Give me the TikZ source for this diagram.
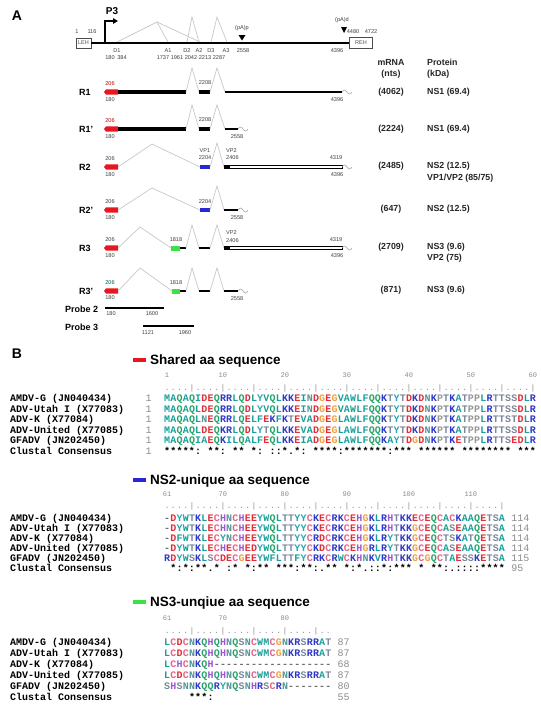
\documentclass[tikz,border=0pt]{standalone}
\usepackage{fontspec}
\setmainfont{Liberation Sans}
\newfontfamily\monof{Liberation Mono}
\usetikzlibrary{arrows.meta}
\definecolor{tred}{RGB}{232,22,30}
\definecolor{tblue}{RGB}{40,40,210}
\definecolor{tgreen}{RGB}{60,225,70}
\definecolor{splice}{RGB}{200,200,200}
\definecolor{chyd}{RGB}{25,160,155}
\definecolor{cacid}{RGB}{225,45,55}
\definecolor{cbas}{RGB}{45,55,200}
\definecolor{chis}{RGB}{160,85,210}
\definecolor{cgly}{RGB}{240,160,60}
\definecolor{ccys}{RGB}{230,100,135}
\definecolor{cgln}{RGB}{35,165,105}
\definecolor{casn}{RGB}{85,150,150}
\definecolor{cpol}{RGB}{125,135,155}
\definecolor{cpro}{RGB}{150,150,150}
\definecolor{ctyr}{RGB}{40,165,175}
\definecolor{cgap}{RGB}{110,110,110}
\newcommand\setaa[2]{\expandafter\def\csname aac#1\endcsname{\color{#2}}}
\setaa{A}{chyd}\setaa{I}{chyd}\setaa{L}{chyd}\setaa{M}{chyd}\setaa{V}{chyd}\setaa{F}{chyd}\setaa{W}{chyd}
\setaa{D}{cacid}\setaa{E}{cacid}\setaa{K}{cbas}\setaa{R}{cbas}\setaa{H}{chis}\setaa{G}{cgly}
\setaa{C}{ccys}\setaa{Q}{cgln}\setaa{N}{casn}\setaa{S}{cpol}\setaa{T}{cpol}\setaa{P}{cpro}
\setaa{Y}{ctyr}\setaa{-}{cgap}
\newcommand\aaseq[1]{\aaseqi#1\relax}
\def\aaseqi#1{\ifx\relax#1\else\hbox to 6.2pt{\hss\csname aac#1\endcsname#1\hss}\expandafter\aaseqi\fi}
\newcommand\cons[1]{\consi#1\relax}
\def\consi#1{\ifx\relax#1\else\hbox to 6.2pt{\hss\if0#1\else#1\fi\hss}\expandafter\consi\fi}
\newcommand\redbar[1]{\fill[tred] (104,#1) -- ++(2,-2.6) -- ++(12,0) -- ++(0,5.2) -- ++(-12,0) -- cycle;}
\newcommand\wave[2]{\draw[draw=black!35,line width=0.6pt] (#1,#2) sin ++(2.5,-2) cos ++(2.5,2) sin ++(2.5,2) cos ++(2.5,-2);}
\begin{document}
\begin{tikzpicture}[x=1pt,y=-1pt,
  spl/.style={draw=splice,line width=0.7pt},
  thinl/.style={line width=1.1pt},
  sm/.style={inner sep=0pt,font=\fontsize{5.6}{6}\selectfont,text=black!75},
  rl/.style={inner sep=0pt,anchor=west,font=\bfseries\fontsize{9}{10}\selectfont},
  cv/.style={inner sep=0pt,font=\bfseries\fontsize{8.8}{10}\selectfont,text=black!85},
  pv/.style={cv,anchor=west},
  seqt/.style={inner sep=0pt,anchor=west,text height=7pt,text depth=0pt,font=\monof\bfseries\fontsize{10}{10}\selectfont},
  rult/.style={inner sep=0pt,anchor=west,text height=7pt,text depth=0pt,text=black!45,font=\monof\fontsize{8}{8}\selectfont},
  numt/.style={inner sep=0pt,text=black!45,font=\monof\fontsize{7}{7}\selectfont},
  endn/.style={inner sep=0pt,anchor=west,text height=7pt,text depth=0pt,text=black!45,font=\monof\fontsize{10}{10}\selectfont},
  hdr/.style={inner sep=0pt,anchor=base west,font=\bfseries\fontsize{13.5}{14}\selectfont},
  panel/.style={inner sep=0pt,font=\bfseries\fontsize{14}{14}\selectfont},
  boxl/.style={draw=black!70,line width=0.5pt,inner sep=0pt,font=\fontsize{5.5}{6}\selectfont,text=black!70}]
\useasboundingbox (0,0) rectangle (541,710);
\fill[white] (0,0) rectangle (541,710);
% ================= Panel A =================
\node[panel] (pa) at (17,16) {A};
% splice lines on genome
\draw[spl] (117,42) -- (157,22) -- (168,42);
\draw[spl] (157,22) -- (200,42);
\draw[spl] (187,42) -- (192,17) -- (199,42);
\draw[spl] (211,42) -- (217,17) -- (227,42);
\node[boxl,minimum width=15pt,minimum height=10pt] (leh) at (83.5,43) {LEH};
\node[boxl,minimum width=23pt,minimum height=11pt] (reh) at (361,43) {REH};
\draw[line width=2.2pt] (leh.east) -- (reh.west);
\draw[line width=2pt,-{Triangle[length=5pt,width=5.5pt]}] (105,43) -- (105,21) -- (118,21);
\node[inner sep=0pt,font=\bfseries\fontsize{10}{10}\selectfont] (p3) at (112,11) {P3};
\fill (238.5,35) -- (245.5,35) -- (242,40.5) -- cycle;
\node[sm] (pap) at (242,28) {(pA)p};
\fill (341,27) -- (347,27) -- (344,33) -- cycle;
\node[sm] (pad) at (342,20) {(pA)d};
\node[sm] (g1) at (77,32) {1};
\node[sm] (g116) at (92,32) {116};
\node[sm] (g4480) at (353,32) {4480};
\node[sm] (g4722) at (371,32) {4722};
\node[sm] (g4396) at (337,51) {4396};
\node[sm] (d1) at (117,51) {D1};
\node[sm] (a1) at (168,51) {A1};
\node[sm] (d2) at (187,51) {D2};
\node[sm] (a2) at (199,51) {A2};
\node[sm] (d3) at (211,51) {D3};
\node[sm] (a3) at (226,51) {A3};
\node[sm] (g2558) at (243,51) {2558};
\node[sm] (g180) at (110,58) {180};
\node[sm] (g384) at (122,58) {384};
\node[sm] (g1737) at (163,58) {1737};
\node[sm] (g1961) at (177,58) {1961};
\node[sm] (g2042) at (191,58) {2042};
\node[sm] (g2213) at (205,58) {2213};
\node[sm] (g2287) at (219,58) {2287};
% column headers
\node[cv] (hm1) at (391,62) {mRNA};
\node[cv] (hm2) at (391,74) {(nts)};
\node[pv] (hp1) at (427,62) {Protein};
\node[pv] (hp2) at (427,74) {(kDa)};
% ---- R1
\node[rl] (r1) at (79,92) {R1};
\redbar{92}
\fill (118,90) rectangle (186,94);
\draw[spl] (186,92) -- (192,68) -- (199,92);
\fill (199,90) rectangle (210,94);
\draw[spl] (210,92) -- (217,68) -- (225,92);
\draw[thinl] (225,92) -- (342,92);
\wave{342}{92}
\node[sm,text=red!75!black] (r1a) at (110,84) {206};
\node[sm] (r1b) at (110,100) {180};
\node[sm] (r1c) at (205,83) {2208};
\node[sm] (r1d) at (337,100) {4396};
\node[cv] (m1) at (391,92) {(4062)};
\node[pv] (q1) at (427,92) {NS1 (69.4)};
% ---- R1'
\node[rl] (r1p) at (79,129) {R1'};
\redbar{129}
\fill (118,127) rectangle (186,131);
\draw[spl] (186,129) -- (192,105) -- (199,129);
\fill (199,127) rectangle (210,131);
\draw[spl] (210,129) -- (217,105) -- (225,129);
\draw[thinl] (225,129) -- (238,129);
\wave{238}{129}
\node[sm,text=red!75!black] (r1pa) at (110,121) {206};
\node[sm] (r1pb) at (110,137) {180};
\node[sm] (r1pc) at (205,120) {2208};
\node[sm] (r1pd) at (237,137) {2558};
\node[cv] (m2) at (391,129) {(2224)};
\node[pv] (q2) at (427,129) {NS1 (69.4)};
% ---- R2
\node[rl] (r2) at (79,167) {R2};
\redbar{167}
\draw[spl] (118,167) -- (152,144) -- (200,167);
\fill[tblue] (200,165) rectangle (210,169);
\draw[spl] (210,167) -- (217,143) -- (224,167);
\fill (224,165) rectangle (229,169);
\draw[line width=0.7pt,fill=white] (229,165.3) rectangle (342,168.7);
\wave{342}{167}
\node[sm] (r2a) at (110,159) {206};
\node[sm] (r2b) at (110,175) {180};
\node[sm] (r2c) at (205,151) {VP1};
\node[sm] (r2d) at (205,158) {2204};
\node[sm,anchor=west] (r2e) at (226,151) {VP2};
\node[sm,anchor=west] (r2f) at (226,158) {2406};
\node[sm] (r2g) at (336,158) {4319};
\node[sm] (r2h) at (337,175) {4396};
\node[cv] (m3) at (391,166) {(2485)};
\node[pv] (q3) at (427,166) {NS2 (12.5)};
\node[pv] (q3b) at (427,178) {VP1/VP2 (85/75)};
% ---- R2'
\node[rl] (r2p) at (79,210) {R2'};
\redbar{210}
\draw[spl] (118,210) -- (152,188) -- (200,210);
\fill[tblue] (200,208) rectangle (210,212);
\draw[spl] (210,210) -- (217,186) -- (224,210);
\draw[thinl] (224,210) -- (238,210);
\wave{238}{210}
\node[sm] (r2pa) at (110,202) {206};
\node[sm] (r2pb) at (110,218) {180};
\node[sm] (r2pc) at (205,202) {2204};
\node[sm] (r2pd) at (237,218) {2558};
\node[cv] (m4) at (391,209) {(647)};
\node[pv] (q4) at (427,209) {NS2 (12.5)};
% ---- R3
\node[rl] (r3) at (79,248) {R3};
\redbar{248}
\draw[spl] (118,248) -- (140,227) -- (171,248);
\fill[tgreen] (171,245.5) rectangle (180,250.5);
\draw[thinl] (180,248) -- (186,248);
\draw[spl] (186,248) -- (192,225) -- (199,248);
\draw[thinl] (199,248) -- (210,248);
\draw[spl] (210,248) -- (217,225) -- (224,248);
\fill (224,246) rectangle (229,250);
\draw[line width=0.7pt,fill=white] (229,246.3) rectangle (342,249.7);
\wave{342}{248}
\node[sm] (r3a) at (110,240) {206};
\node[sm] (r3b) at (110,256) {180};
\node[sm] (r3c) at (176,240) {1818};
\node[sm,anchor=west] (r3d) at (226,233) {VP2};
\node[sm,anchor=west] (r3e) at (226,241) {2406};
\node[sm] (r3f) at (336,240) {4319};
\node[sm] (r3g) at (337,256) {4396};
\node[cv] (m5) at (391,247) {(2709)};
\node[pv] (q5) at (427,247) {NS3 (9.6)};
\node[pv] (q5b) at (427,258) {VP2 (75)};
% ---- R3'
\node[rl] (r3p) at (79,291) {R3'};
\redbar{291}
\draw[spl] (118,291) -- (140,268) -- (172,291);
\fill[tgreen] (172,288.5) rectangle (180,293.5);
\draw[thinl] (180,291) -- (186,291);
\draw[spl] (186,291) -- (192,268) -- (199,291);
\draw[thinl] (199,291) -- (210,291);
\draw[spl] (210,291) -- (217,268) -- (224,291);
\draw[thinl] (224,291) -- (238,291);
\wave{238}{291}
\node[sm,text=teal!70!black] (r3pa) at (110,283) {206};
\node[sm] (r3pb) at (110,298) {180};
\node[sm] (r3pc) at (176,283) {1818};
\node[sm] (r3pd) at (237,299) {2558};
\node[cv] (m6) at (391,290) {(871)};
\node[pv] (q6) at (427,290) {NS3 (9.6)};
% ---- probes
\node[rl] (pr2) at (65,309) {Probe 2};
\draw[line width=1.3pt] (105,308) -- (164,308);
\node[sm] (pr2a) at (111,314) {180};
\node[sm] (pr2b) at (152,314) {1600};
\node[rl] (pr3) at (65,327) {Probe 3};
\draw[line width=1.3pt] (143,326) -- (194,326);
\node[sm] (pr3a) at (148,333) {1121};
\node[sm] (pr3b) at (185,333) {1960};
% ================= Panel B =================
\node[panel] (pb) at (17,354) {B};
% ---- block 1
\fill[tred] (133,358.3) rectangle (146,362.3);
\node[hdr] (h1) at (150,364.8) {Shared aa sequence};
\node[numt] (n1a) at (167,375) {1};
\node[numt] (n1b) at (222.8,375) {10};
\node[numt] (n1c) at (284.8,375) {20};
\node[numt] (n1d) at (346.8,375) {30};
\node[numt] (n1e) at (408.8,375) {40};
\node[numt] (n1f) at (470.8,375) {50};
\node[numt] (n1g) at (532.8,375) {60};
\node[rult] (ru1) at (163.9,387) {\cons{....|....|....|....|....|....|....|....|....|....|....|....|}};
\node[seqt] (l1a) at (10,398) {AMDV-G (JN040434)};
\node[seqt] (l1b) at (10,408.5) {ADV-Utah I (X77083)};
\node[seqt] (l1c) at (10,419) {ADV-K (X77084)};
\node[seqt] (l1d) at (10,429.5) {ADV-United (X77085)};
\node[seqt] (l1e) at (10,440) {GFADV (JN202450)};
\node[seqt] (l1f) at (10,450.5) {Clustal Consensus};
\node[endn] (b1a) at (145.3,398) {1};
\node[endn] (b1b) at (145.3,408.5) {1};
\node[endn] (b1c) at (145.3,419) {1};
\node[endn] (b1d) at (145.3,429.5) {1};
\node[endn] (b1e) at (145.3,440) {1};
\node[endn] (b1f) at (145.3,450.5) {1};
\node[seqt] (s1a) at (163.9,398) {\aaseq{MAQAQIDEQRRLQDLYVQLKKEINDGEGVAWLFQQKTYTDKDNKPTKATPPLRTTSSDLR}};
\node[seqt] (s1b) at (163.9,408.5) {\aaseq{MAQAQLDEQRRLQDLYVQLKKEINDGEGVAWLFQQKTYTDKDNKPTKATPPLRTTSSDLR}};
\node[seqt] (s1c) at (163.9,419) {\aaseq{MAQAQLNEQRRLQELFEKFKTEVADGEGLAWLFQQKTYTDKDNKPTKATPPLRTTSTDLR}};
\node[seqt] (s1d) at (163.9,429.5) {\aaseq{MAQAQLDEQKRLQDLYTQLKKEVADGEGLAWLFQQKTYTDKDNKPTKATPPLRTTSSDLR}};
\node[seqt] (s1e) at (163.9,440) {\aaseq{MAQAQIAEQKILQALFEQLKKEIADGEGLAWLFQQKAYTDGDNKPTKETPPLRTTSEDLR}};
\node[seqt] (s1f) at (163.9,450.5) {\cons{*****:0**:0**0*:0::*.*:0****:*******:***0******0********0***}};
% ---- block 2
\fill[tblue] (133,478.3) rectangle (146,482.3);
\node[hdr] (h2) at (150,484.8) {NS2-unique aa sequence};
\node[numt] (n2a) at (167,494) {61};
\node[numt] (n2b) at (222.8,494) {70};
\node[numt] (n2c) at (284.8,494) {80};
\node[numt] (n2d) at (346.8,494) {90};
\node[numt] (n2e) at (408.8,494) {100};
\node[numt] (n2f) at (470.8,494) {110};
\node[rult] (ru2) at (163.9,505) {\cons{....|....|....|....|....|....|....|....|....|....|....|}};
\node[seqt] (l2a) at (10,518) {AMDV-G (JN040434)};
\node[seqt] (l2b) at (10,528) {ADV-Utah I (X77083)};
\node[seqt] (l2c) at (10,538) {ADV-K (X77084)};
\node[seqt] (l2d) at (10,547.5) {ADV-United (X77085)};
\node[seqt] (l2e) at (10,557.5) {GFADV (JN202450)};
\node[seqt] (l2f) at (10,567.5) {Clustal Consensus};
\node[seqt] (s2a) at (163.9,518) {\aaseq{-DYWTKLECHNCHEEYWQLTTYYCKECRKCEHGKLRHTKKECEQCACKAAQETSA}};
\node[seqt] (s2b) at (163.9,528) {\aaseq{-DYWTKLECHNCHEEYWQLTTYYCKECRKCEHGKLRHTKKGCEQCASEAAQETSA}};
\node[seqt] (s2c) at (163.9,538) {\aaseq{-DFWTKLECYNCHEEYWQLTTYYCRDCRKCEHGKLRYTKKGCEQCTSKATQETSA}};
\node[seqt] (s2d) at (163.9,547.5) {\aaseq{-DYWTKLECHECHEDYWQLTTYYCKDCRKCEHGRLRYTKKGCEQCASEAAQETSA}};
\node[seqt] (s2e) at (163.9,557.5) {\aaseq{RDYWSKLSCDECGEEYWFLTTFYCRKCRWCKHNKVRHTKKGCGQCTAESSKETSA}};
\node[seqt] (s2f) at (163.9,567.5) {\cons{0*:*:**.*0:*0*:**0***:**:.**0*:*.::*:***0*0**:.::::****}};
\node[endn] (e2a) at (511.1,518) {114};
\node[endn] (e2b) at (511.1,528) {114};
\node[endn] (e2c) at (511.1,538) {114};
\node[endn] (e2d) at (511.1,547.5) {114};
\node[endn] (e2e) at (511.1,557.5) {115};
\node[endn] (e2f) at (511.1,567.5) {95};
% ---- block 3
\fill[tgreen] (133,600.3) rectangle (146,604.3);
\node[hdr] (h3) at (150,606.8) {NS3-unqiue aa sequence};
\node[numt] (n3a) at (167,618) {61};
\node[numt] (n3b) at (222.8,618) {70};
\node[numt] (n3c) at (284.8,618) {80};
\node[rult] (ru3) at (163.9,630) {\cons{....|....|....|....|....|..}};
\node[seqt] (l3a) at (10,642) {AMDV-G (JN040434)};
\node[seqt] (l3b) at (10,653) {ADV-Utah I (X77083)};
\node[seqt] (l3c) at (10,664) {ADV-K (X77084)};
\node[seqt] (l3d) at (10,675) {ADV-United (X77085)};
\node[seqt] (l3e) at (10,686) {GFADV (JN202450)};
\node[seqt] (l3f) at (10,697) {Clustal Consensus};
\node[seqt] (s3a) at (163.9,642) {\aaseq{LCDCNKQHQHNQSNCWMCGNKRSRRAT}};
\node[seqt] (s3b) at (163.9,653) {\aaseq{LCDCNKQHQHNQSNCWMCGNKRSRRAT}};
\node[seqt] (s3c) at (163.9,664) {\aaseq{LCHCNKQH-------------------}};
\node[seqt] (s3d) at (163.9,675) {\aaseq{LCDCNKQHQHNQSNCWMCGNKRSRRAT}};
\node[seqt] (s3e) at (163.9,686) {\aaseq{SHSNNKQQRYNQSNHRSCRN-------}};
\node[seqt] (s3f) at (163.9,697) {\cons{0000***:}};
\node[endn] (e3a) at (337.5,642) {87};
\node[endn] (e3b) at (337.5,653) {87};
\node[endn] (e3c) at (337.5,664) {68};
\node[endn] (e3d) at (337.5,675) {87};
\node[endn] (e3e) at (337.5,686) {80};
\node[endn] (e3f) at (337.5,697) {55};
\end{tikzpicture}
\end{document}
